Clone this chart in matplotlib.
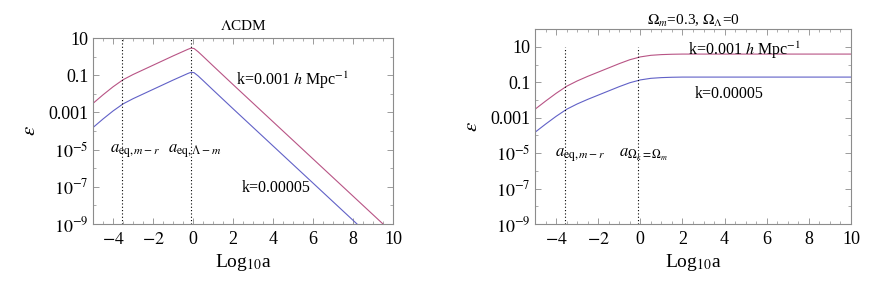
import numpy as np
import matplotlib
matplotlib.use('Agg')
import matplotlib.pyplot as plt
from matplotlib.ticker import FixedLocator, MultipleLocator, NullFormatter

plt.rcParams['font.family'] = ['Liberation Serif', 'DejaVu Serif']
plt.rcParams['mathtext.fontset'] = 'stix'

# log10(a) nodes and log10(epsilon) values
x_lcdm = [-5, -4.5, -4, -3.5, -3, -2.5, -2, -1.5, -1, -0.5, -0.25, -0.1, 0.05, 0.25, 0.5, 1, 2, 4, 6, 8, 10]
red_lcdm = [-2.51, -2.05, -1.62, -1.24, -0.96, -0.71, -0.46, -0.21, 0.04, 0.28, 0.40, 0.46, 0.44, 0.27, 0.02, -0.49, -1.5, -3.5, -5.5, -7.5, -9.5]
blue_lcdm = [-3.81, -3.35, -2.92, -2.54, -2.26, -2.01, -1.76, -1.51, -1.26, -1.02, -0.90, -0.84, -0.86, -1.03, -1.28, -1.79, -2.8, -4.8, -6.8, -8.8, -10.8]

x_open = [-5, -4.5, -4, -3.5, -3, -2.5, -2, -1.5, -1, -0.5, 0, 0.5, 1, 1.5, 2, 4, 6, 8, 10]
red_open = [-2.52, -2.06, -1.62, -1.22, -0.92, -0.66, -0.42, -0.18, 0.06, 0.28, 0.44, 0.53, 0.57, 0.59, 0.6, 0.6, 0.6, 0.6, 0.6]
blue_open = [-3.82, -3.36, -2.92, -2.52, -2.22, -1.96, -1.72, -1.48, -1.24, -1.02, -0.86, -0.77, -0.73, -0.71, -0.7, -0.7, -0.7, -0.7, -0.7]

y_ticks = [1e1, 1e-1, 1e-3, 1e-5, 1e-7, 1e-9]
y_labels = ['10', '0.1', '0.001', r'$10^{-5}$', r'$10^{-7}$', r'$10^{-9}$']

red = (0.72, 0.33, 0.52)
blue = (0.38, 0.38, 0.78)
frame = '#8c8c8c'

fig = plt.figure(figsize=(8.72, 2.86), dpi=100)
ax1 = fig.add_axes([0.1067, 0.2168, 0.344, 0.650])
ax2 = fig.add_axes([0.6135, 0.2168, 0.3624, 0.682])


def style(ax, ytop):
    ax.set_yscale('log')
    ax.set_xlim(-5, 10)
    ax.set_ylim(1e-9, ytop)
    ax.set_xticks([-4, -2, 0, 2, 4, 6, 8, 10])
    ax.set_xticklabels(['$-4$', '$-2$', '0', '2', '4', '6', '8', '10'])
    ax.xaxis.set_minor_locator(MultipleLocator(0.5))
    ax.yaxis.set_major_locator(FixedLocator(y_ticks))
    ax.set_yticklabels(y_labels)
    ax.yaxis.set_minor_locator(FixedLocator([10.0 ** p for p in range(-9, 3)]))
    ax.yaxis.set_minor_formatter(NullFormatter())
    ax.tick_params(which='both', direction='in', top=True, right=True,
                   color=frame, labelsize=13)
    ax.tick_params(which='major', length=4, width=0.6)
    ax.tick_params(which='minor', length=2, width=0.5)
    ax.tick_params(axis='x', pad=5)
    ax.tick_params(axis='y', pad=3)
    for s in ax.spines.values():
        s.set_color(frame)
        s.set_linewidth(0.8)
    ax.set_xlabel(r'Log$_{10}$a', fontsize=14, labelpad=3)
    ax.set_ylabel(r'$\epsilon$', fontsize=15, labelpad=6)


# Lambda CDM
ax1.plot(x_lcdm, 10.0 ** np.array(red_lcdm), color=red, lw=0.8)
ax1.plot(x_lcdm, 10.0 ** np.array(blue_lcdm), color=blue, lw=0.8)
ax1.axvline(-3.55, color='k', ls=(0, (1, 2)), lw=0.8)
ax1.axvline(-0.1, color='k', ls=(0, (1, 2)), lw=0.8)
style(ax1, 10)
ax1.set_title(r'$\Lambda$CDM', fontsize=11, pad=6)
ax1.text(2.15, 10 ** -1.26, r'k=0.001 $h$ Mpc$^{-1}$', fontsize=11.5, va='center')
ax1.text(2.45, 10 ** -7.07, 'k=0.00005', fontsize=11.5, va='center')
ax1.text(-4.13, 10 ** -5.1, r'$a_{\mathrm{eq},m-r}$', fontsize=12, va='center')
ax1.text(-1.23, 10 ** -5.1, r'$a_{\mathrm{eq},\Lambda-m}$', fontsize=12, va='center')

# Omega_m = 0.3, Omega_Lambda = 0
ax2.plot(x_open, 10.0 ** np.array(red_open), color=red, lw=0.8)
ax2.plot(x_open, 10.0 ** np.array(blue_open), color=blue, lw=0.8)
ax2.vlines([-3.56, -0.13], 1e-9, 10, color='k', ls=(0, (1, 2)), lw=0.8)
style(ax2, 10 ** 2.02)
ax2.set_title(r'$\Omega_m$=0.3, $\Omega_\Lambda$=0', fontsize=11, pad=2)
ax2.text(2.25, 10 ** 0.83, r'k=0.001 $h$ Mpc$^{-1}$', fontsize=11.5, va='center')
ax2.text(2.6, 10 ** -1.67, 'k=0.00005', fontsize=11.5, va='center')
ax2.text(-4.05, 10 ** -5.1, r'$a_{\mathrm{eq},m-r}$', fontsize=12, va='center')
ax2.text(-1.03, 10 ** -5.1, r'$a_{\Omega_k=\Omega_m}$', fontsize=12, va='center')

fig.savefig('out.png', dpi=100)
